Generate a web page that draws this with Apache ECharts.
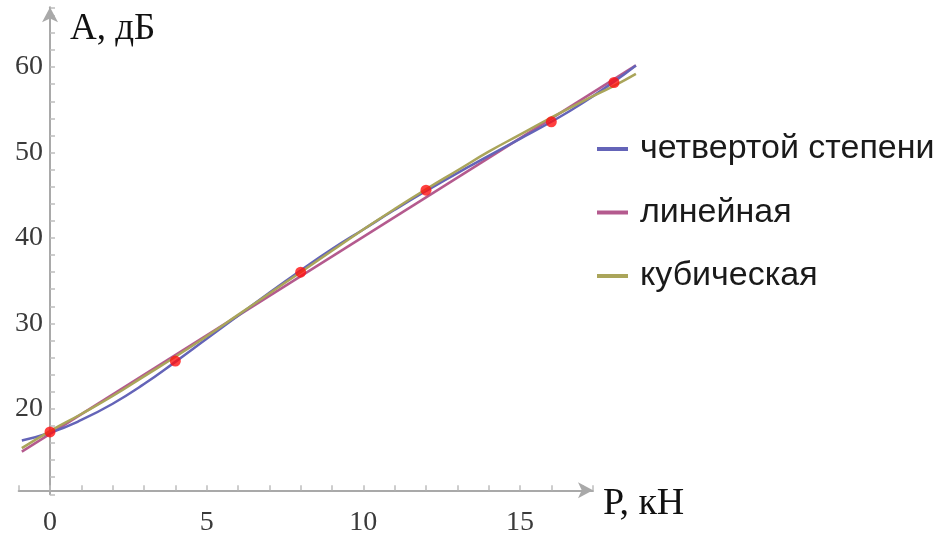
<!DOCTYPE html>
<html>
<head>
<meta charset="utf-8">
<script src="https://cdn.jsdelivr.net/npm/echarts@6/dist/echarts.min.js"></script>
<style>
html,body{margin:0;padding:0;background:#fff;}
#chart{width:937px;height:538px;}
</style>
</head>
<body>
<div id="chart"></div>
<script>
// Measured points
var pointsX = [0, 4, 8, 12, 16, 18];
var pointsY = [17.3, 25.6, 36.0, 45.6, 53.6, 58.2];

// Fitted curves
var curveX = [-0.9, 0, 1, 2, 3, 4, 5, 6, 7, 8, 9, 10, 11, 12, 13, 14, 15, 16, 17, 18, 18.7];
var quarticY = [16.3, 17.2, 18.7, 20.6, 22.9, 25.5, 28.2, 30.9, 33.6, 36.2, 38.7, 41.0, 43.3, 45.5, 47.6, 49.6, 51.6, 53.6, 55.8, 58.3, 60.2];
var cubicY = [15.4, 17.4, 19.4, 21.5, 23.8, 26.1, 28.5, 31.0, 33.5, 36.0, 38.5, 41.0, 43.4, 45.7, 47.9, 50.1, 52.1, 54.1, 56.0, 57.8, 59.2];
var linearX = [-0.9, 18.7];
var linearY = [15.0, 60.2];

var seriesNames = ['четвертой степени', 'линейная', 'кубическая'];
var xTickLabels = [0, 5, 10, 15];
var yTickLabels = [20, 30, 40, 50, 60];
var xAxisName = 'Р, кН';
var yAxisName = 'А, дБ';

function zip(xs, ys) { return xs.map(function (x, i) { return [x, ys[i]]; }); }

var axisColor = '#a9a9a9';
var tickColor = '#bdbdbd';
var PX = 31.33; // px per x unit
var chart = echarts.init(document.getElementById('chart'), null, {renderer: 'canvas'});
chart.setOption({
  animation: false,
  backgroundColor: '#ffffff',
  grid: [
    {left: 18.7, right: 344, top: 7.3, bottom: 43.7, containLabel: false, outerBoundsMode: 'none'},
    {left: 18.7, right: 937 - 18.7 - PX * 20, top: 7.3, bottom: 43.7, containLabel: false, outerBoundsMode: 'none'}
  ],
  xAxis: [{
    gridIndex: 0, type: 'value', min: -1, max: 17.33, interval: 1,
    offset: -4,
    axisLine: {onZero: false, lineStyle: {color: axisColor, width: 2}, symbol: ['none', 'arrow'], symbolSize: [12, 15]},
    axisTick: {show: true, inside: true, length: 5, lineStyle: {color: tickColor, width: 1.5}},
    splitLine: {show: false},
    axisLabel: {
      margin: 18, fontFamily: 'Liberation Serif', fontSize: 28, color: '#3a3a3a',
      formatter: function (v) { return xTickLabels.indexOf(Math.round(v * 1000) / 1000) >= 0 ? String(v) : ''; }
    }
  }, {
    gridIndex: 1, type: 'value', min: -1, max: 19, show: false, splitLine: {show: false}
  }],
  yAxis: [{
    gridIndex: 0, type: 'value', min: 10, max: 67, interval: 2,
    offset: -31.33,
    axisLine: {onZero: false, lineStyle: {color: axisColor, width: 2}, symbol: ['none', 'arrow'], symbolSize: [12, 15]},
    axisTick: {show: true, inside: true, length: 5, lineStyle: {color: tickColor, width: 1.5}},
    splitLine: {show: false},
    axisLabel: {
      margin: 7, fontFamily: 'Liberation Serif', fontSize: 28, color: '#3a3a3a',
      formatter: function (v) { return yTickLabels.indexOf(Math.round(v * 1000) / 1000) >= 0 ? String(v) : ''; }
    }
  }, {
    gridIndex: 1, type: 'value', min: 10, max: 67, show: false, splitLine: {show: false}
  }],
  legend: {
    orient: 'vertical', left: 592, top: 126,
    data: seriesNames,
    icon: 'rect', itemWidth: 31, itemHeight: 4, itemGap: 27.5,
    textStyle: {fontFamily: 'Liberation Sans', fontSize: 34, color: '#1a1a1a', lineHeight: 36, padding: [0, 0, 0, 7]}
  },
  graphic: [
    {type: 'text', left: 70, top: 11, style: {text: yAxisName, font: '37px "Liberation Serif"', fill: '#111'}},
    {type: 'text', left: 603, top: 485, style: {text: xAxisName, font: '38px "Liberation Serif"', fill: '#111'}}
  ],
  series: [
    {name: seriesNames[0], type: 'line', xAxisIndex: 1, yAxisIndex: 1, data: zip(curveX, quarticY), smooth: true, showSymbol: false,
     lineStyle: {color: '#6464b8', width: 2.5}, itemStyle: {color: '#6464b8'}, z: 3},
    {name: seriesNames[1], type: 'line', xAxisIndex: 1, yAxisIndex: 1, data: zip(linearX, linearY), showSymbol: false,
     lineStyle: {color: '#b45a8e', width: 2.5}, itemStyle: {color: '#b45a8e'}, z: 2},
    {name: seriesNames[2], type: 'line', xAxisIndex: 1, yAxisIndex: 1, data: zip(curveX, cubicY), smooth: true, showSymbol: false,
     lineStyle: {color: '#aaa55a', width: 2.5}, itemStyle: {color: '#aaa55a'}, z: 4},
    {name: 'points', type: 'scatter', xAxisIndex: 1, yAxisIndex: 1, data: zip(pointsX, pointsY), symbolSize: 11,
     itemStyle: {color: '#ff1010'}, z: 10}
  ]
});
</script>
</body>
</html>
